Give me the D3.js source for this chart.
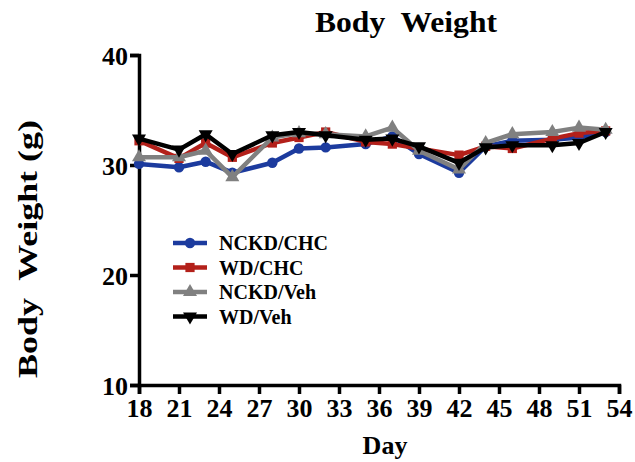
<!DOCTYPE html>
<html>
<head>
<meta charset="utf-8">
<script src="https://cdn.jsdelivr.net/npm/d3@7"></script>
<style>
  html, body { margin: 0; padding: 0; background: #fff; }
  svg text { font-family: "Liberation Serif", "Times New Roman", serif; font-weight: bold; fill: #000; }
</style>
</head>
<body>
<svg id="chart" width="635" height="462"></svg>
<script>
// Study days on which the mice were weighed
const days = [18, 21, 23, 25, 28, 30, 32, 35, 37, 39, 42, 44, 46, 49, 51, 53];

// Mean body weight (g) per group
const nckdChc = [30.1, 29.8, 30.3, 29.3, 30.2, 31.5, 31.6, 31.9, 32.6, 31.0, 29.3, 31.7, 32.2, 32.3, 32.5, 33.0];
const wdChc   = [32.2, 30.6, 32.0, 30.7, 32.0, 32.5, 33.0, 32.1, 31.9, 31.5, 30.9, 31.7, 31.5, 32.4, 32.9, 33.1];
const nckdVeh = [30.7, 30.7, 31.3, 28.9, 32.5, 32.9, 32.8, 32.6, 33.4, 31.3, 29.6, 32.0, 32.8, 33.0, 33.4, 33.2];
const wdVeh   = [32.4, 31.4, 32.8, 31.0, 32.7, 33.0, 32.7, 32.3, 32.4, 31.7, 30.2, 31.6, 31.8, 31.8, 32.0, 33.0];

const groupNames = ["NCKD/CHC", "WD/CHC", "NCKD/Veh", "WD/Veh"];
const xTicks = [18, 21, 24, 27, 30, 33, 36, 39, 42, 45, 48, 51, 54];
const yTicks = [10, 20, 30, 40];

const groups = [
  { name: groupNames[0], values: nckdChc, color: "#1c3b9e", symbol: d3.symbolCircle, rot: 0, size: 85 },
  { name: groupNames[1], values: wdChc,   color: "#b3201a", symbol: d3.symbolSquare, rot: 0, size: 85 },
  { name: groupNames[2], values: nckdVeh, color: "#808080", symbol: d3.symbolTriangle, rot: 0, size: 85 },
  { name: groupNames[3], values: wdVeh,   color: "#000000", symbol: d3.symbolTriangle, rot: 180, size: 85 }
];

const svg = d3.select("#chart");
const x = d3.scaleLinear().domain([18, 54]).range([139, 619]);
const y = d3.scaleLinear().domain([10, 40]).range([385, 55]);

// Axes
const xAxis = d3.axisBottom(x).tickValues(xTicks).tickSize(9).tickPadding(4);
const yAxis = d3.axisLeft(y).tickValues(yTicks).tickSize(9).tickPadding(2);

const gx = svg.append("g").attr("transform", `translate(0,${y(10)})`).call(xAxis);
const gy = svg.append("g").attr("transform", `translate(${x(18)},0)`).call(yAxis);

[gx, gy].forEach(g => {
  g.select(".domain").attr("stroke", "#000").attr("stroke-width", 3.5);
  g.selectAll(".tick line").attr("stroke", "#000").attr("stroke-width", 3.5);
  g.selectAll(".tick text").attr("font-size", 26).attr("font-family", "Liberation Serif").attr("font-weight", "bold").attr("fill", "#000");
});
gx.selectAll(".tick text").attr("dy", "0.72em");
gy.selectAll(".tick text").attr("dy", "0.35em");

// Titles
svg.append("text").attr("x", 406).attr("y", 32).attr("text-anchor", "middle")
  .attr("font-size", 30).attr("xml:space", "preserve")
  .attr("textLength", 182).attr("lengthAdjust", "spacingAndGlyphs").text("Body  Weight");
svg.append("text").attr("x", 385).attr("y", 454).attr("text-anchor", "middle")
  .attr("font-size", 26).text("Day");
svg.append("text").attr("transform", "translate(37,249) rotate(-90)").attr("text-anchor", "middle")
  .attr("font-size", 28).attr("xml:space", "preserve")
  .attr("textLength", 258).attr("lengthAdjust", "spacingAndGlyphs").text("Body  Weight (g)");

// Series lines and markers
const line = d3.line().x((d, i) => x(days[i])).y(d => y(d));
const plot = svg.append("g");
groups.forEach(g => {
  plot.append("path").datum(g.values)
    .attr("d", line).attr("fill", "none")
    .attr("stroke", g.color).attr("stroke-width", 4.5).attr("stroke-linejoin", "round");
  plot.selectAll(null).data(g.values).enter().append("path")
    .attr("d", d3.symbol().type(g.symbol).size(g.size))
    .attr("transform", (d, i) => `translate(${x(days[i])},${y(d)}) rotate(${g.rot})`)
    .attr("fill", g.color);
});

// Legend
const legend = svg.append("g");
groups.forEach((g, i) => {
  const ly = 243 + i * 24.5;
  legend.append("line").attr("x1", 173).attr("x2", 207).attr("y1", ly).attr("y2", ly)
    .attr("stroke", g.color).attr("stroke-width", 4.5);
  legend.append("path").attr("d", d3.symbol().type(g.symbol).size(g.size))
    .attr("transform", `translate(190,${ly}) rotate(${g.rot})`).attr("fill", g.color);
  legend.append("text").attr("x", 219).attr("y", ly).attr("dy", "0.35em")
    .attr("font-size", 20).text(g.name);
});
</script>
</body>
</html>
